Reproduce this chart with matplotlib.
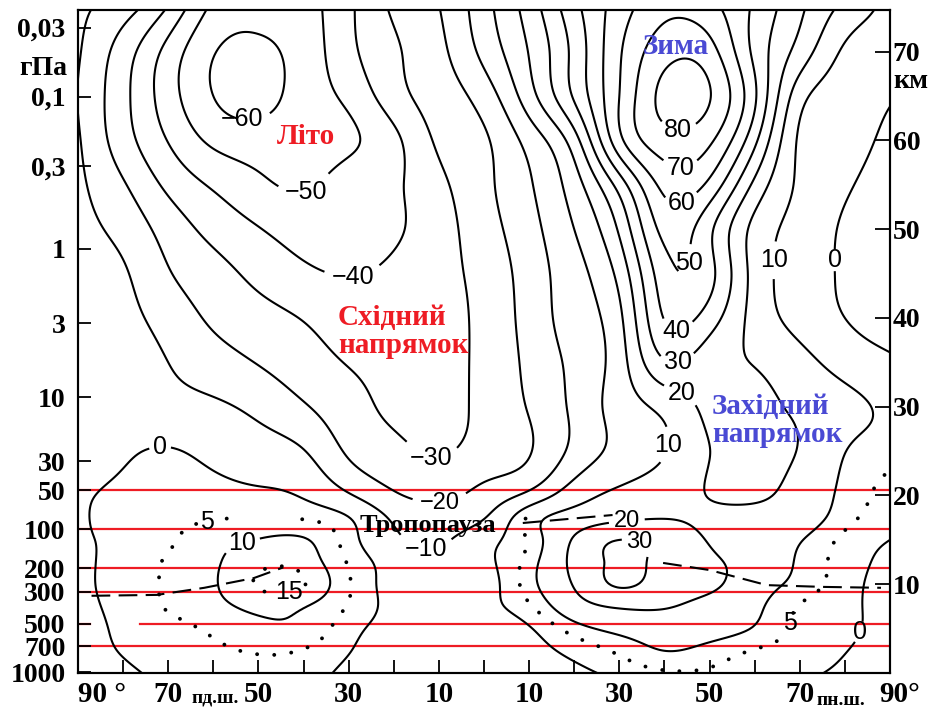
import numpy as np
import matplotlib
matplotlib.use("Agg")
import matplotlib.pyplot as plt
import matplotlib.transforms as mtransforms

# ---------------- data ----------------
lat = [-90, -80, -70, -60, -50, -40, -30, -20, -10, 0, 10, 20, 30, 40, 50, 60, 70, 80, 90]
height_km = [0, 2.5, 5, 7.5, 10, 12.5, 15, 17.5, 20, 25, 30, 35, 40, 45, 50, 55, 60, 65, 70, 75]

# zonal wind, m/s ; one row per height, columns follow `lat`
u_z00 = [-4, -1.2, 1.5, 3, 3.5, 2.5, -1.5, -4, -5, -5, -4, -1.5, 1.5, 4.2, 4.2, 2.5, 1, -1, -3]
u_z02 = [-3, 0.4, 2.7, 4.2, 5.4, 4.7, 0.3, -3.5, -5, -5, -2.5, 1.7, 6, 10, 8, 4.7, 2.8, 0.2, -3]
u_z05 = [-3, 1.2, 3.5, 5.8, 8.5, 8.5, 2.1, -2.5, -4.5, -4, -0.5, 7.4, 12, 14, 13, 9.5, 3.8, 1.3, -3]
u_z07 = [-2, 1.9, 5.4, 8.3, 11.4, 10.3, 4.6, -2, -4, -2, 4.2, 15.6, 21, 20.8, 16.5, 11.5, 4.7, 1.5, -3]
u_z10 = [-1.5, 2.3, 5.6, 9.4, 15.5, 15.3, 5.5, -2.5, -5.5, -3, 7.6, 20.7, 31, 26, 22, 14, 8, 2.3, -3]
u_z12 = [-1.5, 2.2, 5.5, 9.2, 13.5, 13, 4.5, -3.5, -8, -2, 7.1, 22.5, 31.5, 27.5, 21.5, 16.4, 9, 2.9, -2]
u_z15 = [-1, 1.6, 4.3, 8, 10.2, 10.5, 2.6, -7.9, -11.5, -3.1, 5.7, 21, 30, 26, 19.5, 15.7, 10.5, 3.8, 0]
u_z17 = [-1, 2.5, 4, 4.6, 5.3, 4.5, 0.2, -11.5, -16, -10.5, 5.9, 14, 18, 19.7, 18.5, 17, 14.2, 6.8, 2]
u_z20 = [-1, 1.5, 3, 2.5, 1.5, -0.7, -8.9, -18.6, -22, -16.7, -7.1, 5.9, 12, 16, 20.3, 21.5, 16, 8.3, 3]
u_z25 = [-3, -1, 0.5, -2.4, -5.7, -9.6, -21.4, -27.3, -31, -26, -20.6, -7.3, 2.9, 9.5, 19.9, 22, 19.5, 10.2, 7]
u_z30 = [-3, -4, -6.5, -8.5, -12.4, -19, -26.3, -32, -33.5, -27.5, -19.3, -7.9, 4.2, 13, 22, 22, 18.5, 13, 8]
u_z35 = [-3, -5, -10, -15.4, -20.5, -25.7, -30.5, -33, -33, -27.6, -17.7, -7.5, 5.6, 29, 24, 19.6, 13.5, 6, 1.5]
u_z40 = [-3, -7, -14, -21.7, -26.5, -30.5, -35, -36, -34, -27.2, -16.4, -5.2, 7.9, 40.5, 35, 16.6, 6.5, 0, -4]
u_z45 = [-5, -8.9, -19.2, -26.4, -32.6, -38, -40.5, -38, -33.3, -26.5, -15.6, -3.7, 13.2, 46, 43, 16.5, 5.5, -1.5, -7]
u_z50 = [-7, -13.2, -24.2, -33, -39.5, -44.5, -45, -41.5, -34, -24.4, -13.5, 0, 21.5, 53, 42.2, 17, 6.5, -1.3, -7]
u_z55 = [-8, -19, -32.2, -41.3, -48, -51, -46.3, -41.7, -32.3, -22.5, -11.1, 5.3, 34.3, 63, 57.4, 27.6, 8.3, 1.3, -6]
u_z60 = [-9, -25.5, -40.4, -52, -55, -54, -51.5, -42.5, -28.4, -21.4, -6.4, 15.7, 57, 76, 71.7, 42.4, 8.5, 3.6, -3]
u_z65 = [-10.3, -27.1, -45.5, -60, -64, -55.2, -47.7, -34.2, -25.2, -15.5, 5.8, 31.3, 60, 83, 80.5, 51.5, 14, 5, 1]
u_z70 = [-9, -24.8, -43.4, -59.4, -62, -55.8, -42.8, -31.5, -22.6, -7.2, 10.5, 33, 58.7, 76, 73.8, 47.5, 26, 8.5, 5]
u_z75 = [-8, -15.4, -30.6, -52, -57, -54, -42, -28.5, -20.2, -3.7, 14.5, 37, 54.8, 67, 63, 48.3, 32, 17.4, 7]

main_levels = [-60, -50, -40, -30, -20, -10, 0, 10, 20, 30, 40, 50, 60, 70, 80]
dotted_levels = [5, 15]

# tropopause (dashed line), lat / km ; nan = hidden part
trop_lat = [-87, -72.5, -62, -51, -44.5, np.nan, 8.6, 28.5, np.nan, 39.7, 50, 62.7, 75.2, 88]
trop_km = [8.7, 8.8, 9.6, 10.7, 11.9, np.nan, 16.9, 17.8, np.nan, 12.4, 11.6, 9.9, 9.7, 9.6]

pressure_ticks = [0.03, 0.1, 0.3, 1, 3, 10, 30, 50, 100, 200, 300, 500, 700, 1000]
pressure_labels = ["0,03", "0,1", "0,3", "1", "3", "10", "30", "50", "100", "200", "300", "500", "700", "1000"]
red_levels_hpa = [50, 100, 200, 300, 500, 700]
km_ticks = [10, 20, 30, 40, 50, 60, 70]
lat_labels = [(-90, "90 °"), (-70, "70"), (-50, "50"), (-30, "30"), (-10, "10"),
              (10, "10"), (30, "30"), (50, "50"), (70, "70"), (90, "90°")]


# ---------------- helpers ----------------
def std_height_km(p):
    """US standard atmosphere: pressure (hPa) -> geopotential height (km)."""
    layers = [(0, 288.15, -6.5, 1013.25), (11, 216.65, 0.0, 226.32), (20, 216.65, 1.0, 54.749),
              (32, 228.65, 2.8, 8.6802), (47, 270.65, 0.0, 1.1091), (51, 270.65, -2.8, 0.66939),
              (71, 214.65, -2.0, 0.039564)]
    gmr = 34.1632
    for zb, tb, lr, pb in reversed(layers):
        if p <= pb or zb == 0:
            if lr == 0:
                return zb + tb / gmr * np.log(pb / p)
            t = tb * (p / pb) ** (-lr / gmr)
            return zb + (t - tb) / lr
    return 0.0


def natural_spline(x, y, xn):
    x = np.asarray(x, float)
    y = np.asarray(y, float)
    n = len(x)
    h = np.diff(x)
    A = np.zeros((n, n))
    r = np.zeros_like(y)
    A[0, 0] = A[-1, -1] = 1.0
    for i in range(1, n - 1):
        A[i, i - 1] = h[i - 1]
        A[i, i] = 2 * (h[i - 1] + h[i])
        A[i, i + 1] = h[i]
        r[i] = 6 * ((y[i + 1] - y[i]) / h[i] - (y[i] - y[i - 1]) / h[i - 1])
    M = np.linalg.solve(A, r)
    idx = np.clip(np.searchsorted(x, xn) - 1, 0, n - 2)
    x0, x1 = x[idx], x[idx + 1]
    hh = (x1 - x0)[:, None]
    t0 = (x1 - xn)[:, None]
    t1 = (xn - x0)[:, None]
    y0, y1, M0, M1 = y[idx], y[idx + 1], M[idx], M[idx + 1]
    return (M0 * t0 ** 3 / (6 * hh) + M1 * t1 ** 3 / (6 * hh)
            + (y0 / hh - M0 * hh / 6) * t0 + (y1 / hh - M1 * hh / 6) * t1)


wind = np.array([u_z00, u_z02, u_z05, u_z07, u_z10, u_z12, u_z15, u_z17, u_z20, u_z25,
                 u_z30, u_z35, u_z40, u_z45, u_z50, u_z55, u_z60, u_z65, u_z70, u_z75], float)

ztop = 74.7
zf = np.linspace(0, 75, 320)
latf = np.linspace(-90, 90, 400)
tmp = natural_spline(height_km, wind, zf)
UF = natural_spline(lat, tmp.T, latf).T
LATF, ZF = np.meshgrid(latf, zf)

RED = "#ee1c24"
BLUE = "#4a4ad4"
serif = ["Liberation Serif", "DejaVu Serif"]
sans = ["Liberation Sans", "DejaVu Sans"]

fig = plt.figure(figsize=(9.3, 7.08), dpi=100)
ax = fig.add_axes([78 / 930, 35 / 708, 812 / 930, 663 / 708])
ax.set_xlim(-90, 90)
ax.set_ylim(0, ztop)

# red pressure levels
for p in red_levels_hpa:
    zz = std_height_km(p)
    if p == 500:
        ax.plot([-90, -87.3], [zz, zz], color=RED, lw=1.6, zorder=1)
        ax.plot([-76.3, 90], [zz, zz], color=RED, lw=1.6, zorder=1)
    else:
        ax.plot([-90, 90], [zz, zz], color=RED, lw=1.6, zorder=1)

# one contour set per level (so each can be labelled separately)
level_sets = {}
for lev in main_levels:
    level_sets[lev] = ax.contour(LATF, ZF, UF, levels=[lev], colors="k", linewidths=1.5,
                                 linestyles="solid", zorder=2)

U5 = np.ma.masked_where((ZF > 17.6) & ~((LATF > 75) & (ZF < 24)), UF)
cs5 = ax.contour(LATF, ZF, U5, levels=[dotted_levels[0]], colors="k", linewidths=2.8,
                 linestyles=[(0, (0.01, 4.4))], zorder=2)
cs5.set_capstyle("round")
U15 = np.ma.masked_where(LATF > 0, UF)
cs15 = ax.contour(LATF, ZF, U15, levels=[dotted_levels[1]], colors="k", linewidths=2.8,
                  linestyles=[(0, (0.01, 4.4))], zorder=2)
cs15.set_capstyle("round")


def fmt(v):
    return f"{v:.0f}".replace("-", "\u2212")


# (level, lat, km, font size)
label_pos = [(-60, -53.4, 63.2, 18), (-50, -39.7, 54.6, 18), (-40, -29, 44.5, 18),
             (-30, -11.5, 24.9, 18), (-20, -9.8, 19.8, 17), (-10, -13.1, 13.6, 18),
             (0, -71.8, 25.3, 18), (0, 76.3, 46.5, 18), (0, 83.8, 4.5, 18),
             (10, -53.4, 14.1, 18), (10, 43, 25.5, 18), (10, 65, 46.5, 18),
             (20, 31.5, 18.0, 17), (30, 34, 14.2, 17), (20, 43, 30.7, 18), (30, 43, 34.7, 18),
             (40, 42.8, 37.8, 18), (50, 43.9, 46.3, 18), (60, 43.5, 53.3, 18),
             (70, 43.5, 56.4, 18), (80, 43, 60.4, 18), (5, -61.4, 16.9, 18),
             (5, 67.8, 5.6, 18), (15, -43, 8.4, 18)]
all_sets = dict(level_sets)
all_sets[5] = cs5
all_sets[15] = cs15
for lev, x, y, fs in label_pos:
    try:
        res = all_sets[lev].clabel(manual=[(x, y)], inline=True, fmt=fmt, fontsize=fs,
                                   inline_spacing=3)
        for t in res:
            t.set_rotation(0)
            t.set_family(sans)
    except Exception:
        pass

# tropopause
ax.plot(trop_lat, trop_km, color="k", lw=1.5, dashes=(9, 4), zorder=3)

# annotations
ax.text(-39.5, 60.4, "Літо", color=RED, fontsize=21, fontweight="bold", family=serif,
        ha="center", va="center")
ax.text(42.6, 70.6, "Зима", color=BLUE, fontsize=21, fontweight="bold", family=serif,
        ha="center", va="center")
ax.text(-32.4, 38.5, "Східний\nнапрямок", color=RED, fontsize=21, fontweight="bold",
        family=serif, ha="left", va="center", linespacing=1.05)
ax.text(50.5, 28.5, "Західний\nнапрямок", color=BLUE, fontsize=21, fontweight="bold",
        family=serif, ha="left", va="center", linespacing=1.05)
ax.text(-12.5, 16.6, "Тропопауза", color="k", fontsize=19, fontweight="bold", family=serif,
        ha="center", va="center", zorder=4)

# axes styling
for s in ax.spines.values():
    s.set_linewidth(1.5)
ax.set_xticks(range(-90, 91, 10))
ax.set_xticklabels([])
ax.tick_params(axis="x", direction="in", length=9.5, width=1.3, top=False)
ax.set_yticks([std_height_km(p) for p in pressure_ticks])
ax.set_yticklabels(pressure_labels)
ax.tick_params(axis="y", direction="in", length=9.5, width=1.3, pad=9)
for t in ax.get_yticklabels():
    t.set_fontsize(20)
    t.set_fontweight("bold")
    t.set_family(serif)

ax2 = ax.twinx()
ax2.set_ylim(0, ztop)
ax2.set_yticks(km_ticks)
ax2.set_yticklabels([str(k) for k in km_ticks])
ax2.tick_params(axis="y", direction="in", length=11, width=1.3, pad=2)
for t in ax2.get_yticklabels():
    t.set_fontsize(20)
    t.set_fontweight("bold")
    t.set_family(serif)
for s in ax2.spines.values():
    s.set_linewidth(1.5)

trans_y = mtransforms.blended_transform_factory(ax.transAxes, ax.transData)
ax.text(-0.0135, 68.1, "гПа", transform=trans_y, ha="right", va="center", fontsize=20,
        fontweight="bold", family=serif)
ax.text(1.004, 66.7, "км", transform=trans_y, ha="left", va="center", fontsize=20,
        fontweight="bold", family=serif)

trans_x = ax.get_xaxis_transform()
for lv, lab in lat_labels:
    if lv == -90:
        ax.text(-90, -0.032, lab, transform=trans_x, ha="left", va="center", fontsize=21,
                fontweight="bold", family=serif, clip_on=False)
    elif lv == 90:
        ax.text(92.2, -0.032, lab, transform=trans_x, ha="center", va="center", fontsize=21,
                fontweight="bold", family=serif, clip_on=False)
    else:
        ax.text(lv, -0.032, lab, transform=trans_x, ha="center", va="center", fontsize=21,
                fontweight="bold", family=serif, clip_on=False)
ax.text(-59.6, -0.037, "пд.ш.", transform=trans_x, ha="center", va="center", fontsize=14,
        fontweight="bold", family=serif, clip_on=False)
ax.text(79.1, -0.041, "пн.ш.", transform=trans_x, ha="center", va="center", fontsize=14,
        fontweight="bold", family=serif, clip_on=False)

fig.savefig("out.png", dpi=100)
